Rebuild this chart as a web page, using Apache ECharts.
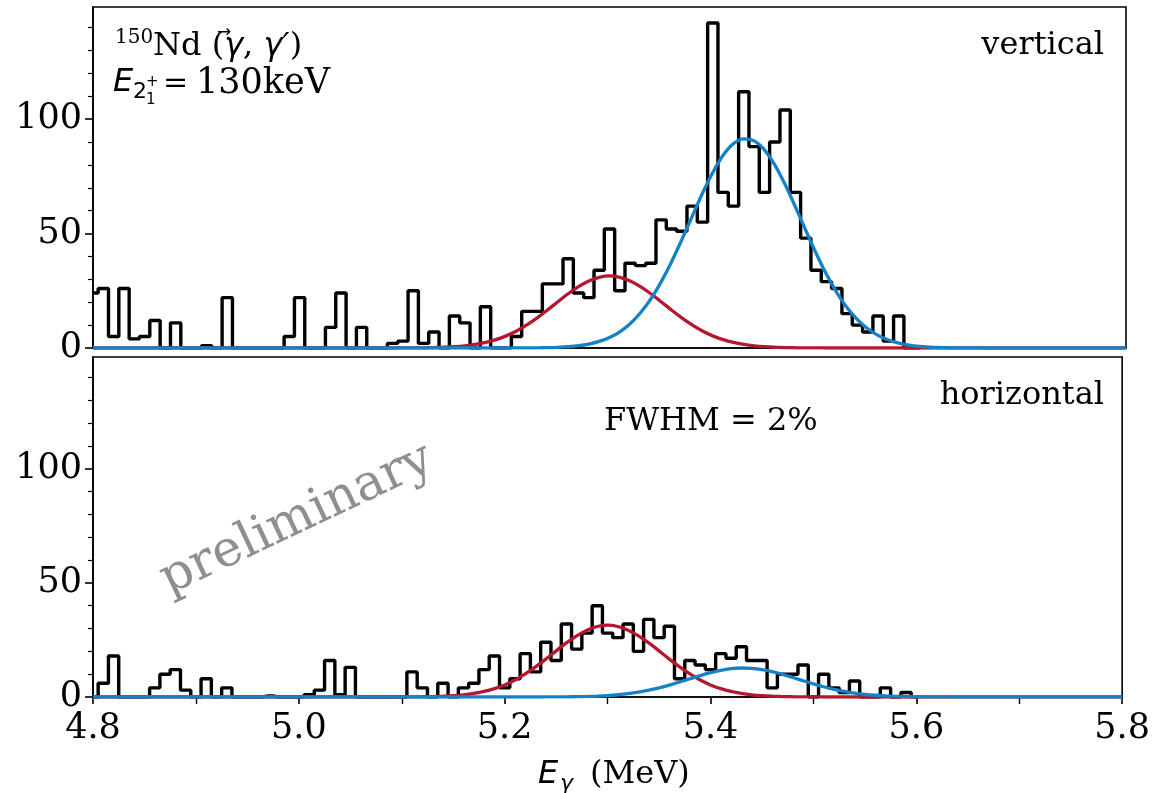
<!DOCTYPE html>
<html>
<head>
<meta charset="utf-8">
<script src="https://cdn.jsdelivr.net/npm/echarts@6/dist/echarts.min.js"></script>
<style>
  html, body { margin: 0; padding: 0; background: #fff; }
  #chart { width: 1153px; height: 793px; }
</style>
</head>
<body>
<div id="chart"></div>
<script>
// bin centres, 0.01 MeV bins from 4.80 to 5.60
const binCenters = [];
for (let i = 0; i <= 80; i++) binCenters.push(+(4.8 + i * 0.01).toFixed(2));

// counts per bin, vertical detector
const vertCounts = [
  24, 26, 5, 26, 4, 5, 12, 0, 11, 0,
  0, 1, 0, 22, 0, 0, 0, 0, 0, 5,
  22, 0, 0, 9, 24, 0, 9, 0, 0, 2,
  3, 25, 2, 7, 0, 14, 11, 0, 18, 0,
  0, 5, 16, 16, 28, 28, 39, 24, 22, 34,
  52, 25, 37, 36, 37, 56, 52, 51, 62, 55,
  142, 68, 62, 112, 88, 68, 90, 104, 68, 48,
  34, 29, 26, 15, 10, 7, 14, 3, 14, 0,
  0
];

// counts per bin, horizontal detector
const horCounts = [
  0, 6, 18, 0, 0, 0, 4, 10, 12, 3,
  0, 8, 0, 4, 0, 0, 0, 0.5, 0, 0,
  0, 1, 3, 16, 1, 13, 0, 0, 0, 0,
  0, 11, 4, 0, 6, 0, 4, 6, 12, 18,
  4, 8, 19, 11, 24, 16, 32, 21, 28, 40,
  28, 26, 32, 20, 34, 26, 31, 8, 16, 14,
  12, 19, 17, 22, 16, 16, 4, 10, 10, 14,
  0, 10, 4, 2, 7, 0, 0, 4, 0, 2,
  0
];

// fit curves (4.80, 5.08 ... 5.68 step 0.01, 5.80)
const fitX = [4.8];
for (let i = 0; i <= 60; i++) fitX.push(+(5.08 + i * 0.01).toFixed(2));
fitX.push(5.8);

const redFitV = [0,
  0.01, 0.01, 0.02, 0.05, 0.10, 0.18, 0.33, 0.57, 0.96, 1.56,
  2.43, 3.65, 5.3, 7.45, 10.1, 13.2, 16.6, 20.2, 23.7, 26.8,
  29.3, 30.9, 31.5, 30.9, 29.3, 26.8, 23.7, 20.2, 16.6, 13.2,
  10.1, 7.45, 5.3, 3.65, 2.43, 1.56, 0.96, 0.57, 0.33, 0.18,
  0.10, 0.05, 0.02, 0.01, 0, 0, 0, 0, 0, 0,
  0, 0, 0, 0, 0, 0, 0, 0, 0, 0,
  0, 0];
const blueFitV = [0,
  0, 0, 0, 0, 0, 0, 0, 0, 0, 0,
  0, 0, 0.01, 0.02, 0.04, 0.08, 0.16, 0.31, 0.57, 1.0,
  1.74, 2.9, 4.6, 7.1, 10.6, 15.4, 21.4, 28.9, 37.6, 47.3,
  57.5, 67.6, 76.7, 84.2, 89.3, 91.4, 90.5, 86.6, 80.0, 71.4,
  61.6, 51.4, 41.4, 32.2, 24.2, 17.6, 12.4, 8.4, 5.5, 3.5,
  2.14, 1.27, 0.72, 0.40, 0.21, 0.11, 0.05, 0.02, 0.01, 0,
  0, 0];
const redFitH = redFitV.slice();
const blueFitH = [0,
  0, 0, 0, 0, 0, 0, 0, 0, 0, 0,
  0, 0, 0, 0, 0, 0, 0.02, 0.04, 0.08, 0.14,
  0.24, 0.40, 0.64, 0.99, 1.47, 2.14, 2.97, 4.02, 5.23, 6.57,
  7.99, 9.40, 10.66, 11.70, 12.41, 12.70, 12.58, 12.04, 11.12, 9.92,
  8.56, 7.14, 5.75, 4.48, 3.36, 2.45, 1.72, 1.17, 0.76, 0.49,
  0.30, 0.18, 0.10, 0.06, 0.03, 0.02, 0.01, 0, 0, 0,
  0, 0];

const yMajor = [0, 50, 100];
const yMinor = [10, 20, 30, 40, 60, 70, 80, 90, 110, 120, 130, 140];

const SERIF = "'DejaVu Serif', serif";
const SANS = "'DejaVu Sans', sans-serif";
const RED = "#b5172e";
const BLUE = "#1582c8";

const chart = echarts.init(document.getElementById("chart"), null, { renderer: "canvas" });

function pairs(xs, ys) {
  return xs.map((x, i) => [x, ys[i]]);
}

function histSeries(idx, counts) {
  return {
    type: "line", xAxisIndex: idx, yAxisIndex: idx * 2,
    step: "middle", symbol: "none", z: 2,
    lineStyle: { color: "#000", width: 3.4 },
    data: pairs(binCenters, counts),
  };
}

function fitSeries(idx, ys, color, z) {
  return {
    type: "line", xAxisIndex: idx, yAxisIndex: idx * 2,
    smooth: 0.3, symbol: "none", z: z,
    lineStyle: { color: color, width: 3.3 },
    data: pairs(fitX, ys),
  };
}

function yAxes(grid) {
  return [
    {
      gridIndex: grid, type: "value", min: 0, max: 149, position: "left",
      axisLine: { show: true, lineStyle: { color: "#000", width: 1.6 } },
      axisTick: { show: true, length: 8, customValues: yMajor, lineStyle: { color: "#000", width: 1.6 } },
      axisLabel: { customValues: yMajor, fontFamily: SERIF, fontSize: 35, color: "#000", margin: 11 },
      splitLine: { show: false },
    },
    {
      gridIndex: grid, type: "value", min: 0, max: 149, position: "left",
      axisLine: { show: false },
      axisTick: { show: true, length: 5, customValues: yMinor, lineStyle: { color: "#000", width: 1.2 } },
      axisLabel: { show: false },
      splitLine: { show: false },
    },
  ];
}

function txt(x, y, text, font, extra) {
  return {
    type: "text", x: x, y: y, silent: true, z: 100,
    style: Object.assign({ text: text, font: font, fill: "#000", verticalAlign: "middle", align: "left" }, extra || {}),
  };
}

const option = {
  animation: false,
  backgroundColor: "#fff",
  grid: [
    { left: 93, right: 27, top: 7, height: 341, show: true, borderColor: "#000", borderWidth: 1.6, backgroundColor: "transparent" },
    { left: 93, right: 27, top: 357, height: 340, show: true, borderColor: "#000", borderWidth: 1.6, backgroundColor: "transparent" },
  ],
  xAxis: [
    {
      gridIndex: 0, type: "value", min: 4.8, max: 5.8, interval: 0.2,
      axisLine: { show: true, lineStyle: { color: "#000", width: 1.6 } },
      axisTick: { show: false }, axisLabel: { show: false }, splitLine: { show: false },
    },
    {
      gridIndex: 1, type: "value", min: 4.8, max: 5.8, interval: 0.2,
      axisLine: { show: true, lineStyle: { color: "#000", width: 1.6 } },
      axisTick: { show: true, length: 7, lineStyle: { color: "#000", width: 1.6 } },
      minorTick: { show: true, splitNumber: 2, length: 7, lineStyle: { color: "#000", width: 1.4 } },
      axisLabel: {
        fontFamily: SERIF, fontSize: 35, color: "#000", margin: 14,
        formatter: (v) => v.toFixed(1),
      },
      splitLine: { show: false },
    },
  ],
  yAxis: yAxes(0).concat(yAxes(1)),
  series: [
    histSeries(0, vertCounts),
    fitSeries(0, redFitV, RED, 3),
    fitSeries(0, blueFitV, BLUE, 4),
    histSeries(1, horCounts),
    fitSeries(1, redFitH, RED, 3),
    fitSeries(1, blueFitH, BLUE, 4),
  ],
  graphic: [
    // top panel annotation
    txt(115, 38, "150", "20px " + SERIF),
    {
      type: "text", x: 153, y: 47, silent: true, z: 100,
      style: {
        text: "{s|Nd (}{m|γ}{s|, }{m|γ′}{s|)}",
        verticalAlign: "middle", align: "left",
        rich: {
          s: { font: "32px " + SERIF, fill: "#000" },
          m: { font: "italic 32px " + SANS, fill: "#000" },
        },
      },
    },
    txt(217, 33, "→", "17px " + SANS),
    txt(113, 83, "E", "italic 32px " + SANS),
    txt(133, 92, "2", "22px " + SANS),
    txt(146, 82, "+", "15px " + SANS),
    txt(146, 100, "1", "15px " + SANS),
    txt(163, 84, "=", "30px " + SERIF),
    txt(196, 84, "130keV", "35px " + SERIF),
    txt(1104, 46, "vertical", "32px " + SERIF, { align: "right" }),
    // bottom panel
    txt(1104, 396, "horizontal", "32px " + SERIF, { align: "right" }),
    txt(604, 422, "FWHM = 2%", "32px " + SERIF),
    {
      type: "text", x: 297, y: 520, rotation: 0.44, silent: true, z: 100,
      style: { text: "preliminary", font: "50px " + SERIF, fill: "#8f8f8f", align: "center", verticalAlign: "middle" },
    },
    // x axis title
    txt(538, 775, "E", "italic 32px " + SANS),
    txt(560, 784, "γ", "italic 22px " + SANS),
    txt(590, 775, "(MeV)", "32px " + SERIF),
  ],
};

chart.setOption(option);
</script>
</body>
</html>
